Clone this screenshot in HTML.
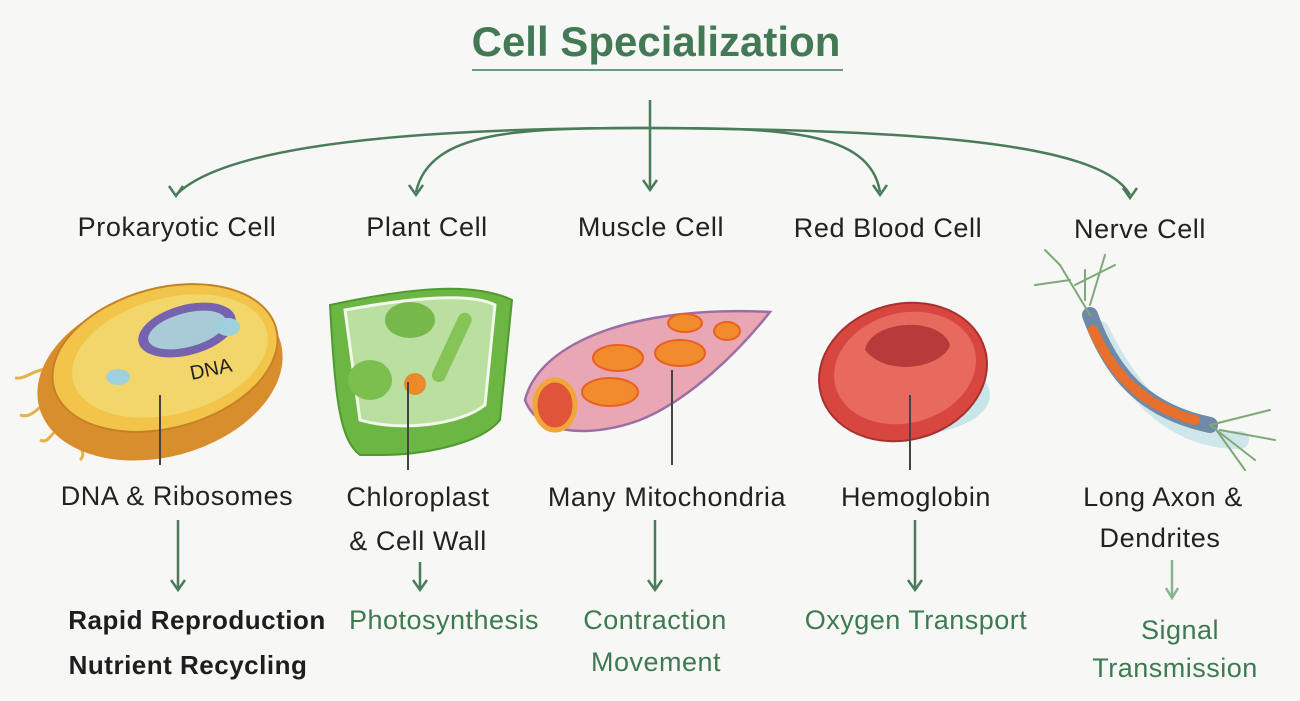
<!DOCTYPE html>
<html><head><meta charset="utf-8"><style>
html,body{margin:0;padding:0;background:#f7f7f5;}
svg{display:block;}
text{font-family:"Liberation Sans",sans-serif;}
</style></head><body>
<svg width="1300" height="701" viewBox="0 0 1300 701" xmlns="http://www.w3.org/2000/svg">
<rect width="1300" height="701" fill="#f7f7f5"/>
<text x="656" y="56" text-anchor="middle" font-size="42" font-weight="bold" fill="#437a55">Cell Specialization</text>
<line x1="472" y1="70" x2="843" y2="70" stroke="#6f9a7c" stroke-width="2"/>
<g stroke="#4a7c59" stroke-width="2.5" fill="none">
<path d="M650,100 L650,188"/>
<path d="M650,128 C450,128 230,140 176,195"/>
<path d="M650,128 C520,128 430,130 416,192"/>
<path d="M650,128 C780,128 870,130 880,192"/>
<path d="M650,128 C900,130 1100,140 1130,195"/>
<path d="M169,186 L176,196 L183,186"/>
<path d="M409,185 L416,195 L423,185"/>
<path d="M643,180 L650,190 L657,180"/>
<path d="M873,185 L880,195 L887,185"/>
<path d="M1123,188 L1130,198 L1137,188"/>
</g>
<g font-size="27" fill="#222" text-anchor="middle" letter-spacing="0.6">
<text x="177" y="236">Prokaryotic Cell</text>
<text x="427" y="236">Plant Cell</text>
<text x="651" y="236">Muscle Cell</text>
<text x="888" y="237">Red Blood Cell</text>
<text x="1140" y="238">Nerve Cell</text>
</g>
<!-- prokaryote -->
<g>
<path d="M60,375 C40,360 30,380 15,378 M62,395 C40,400 35,420 20,415 M70,420 C50,430 50,445 40,440 M80,430 C70,445 90,450 80,460" stroke="#e5b24a" stroke-width="3" fill="none"/>
<ellipse cx="160" cy="375" rx="125" ry="82" transform="rotate(-15 160 375)" fill="#d98e2e"/>
<ellipse cx="165" cy="358" rx="115" ry="70" transform="rotate(-15 165 358)" fill="#f2c44a" stroke="#c58225" stroke-width="2"/>
<ellipse cx="170" cy="356" rx="100" ry="58" transform="rotate(-15 170 356)" fill="#f3d66a"/>
<ellipse cx="187" cy="330" rx="50" ry="25" transform="rotate(-15 187 330)" fill="#7563b0"/>
<ellipse cx="187" cy="330" rx="40" ry="17" transform="rotate(-15 187 330)" fill="#a9cbd8"/>
<ellipse cx="118" cy="377" rx="12" ry="8" fill="#9fd0de"/><ellipse cx="228" cy="327" rx="12" ry="9" fill="#9fd0de"/>
<text x="190" y="376" font-size="20" fill="#222" transform="rotate(-12 210 370)">DNA</text>
</g>
<!-- plant -->
<g>
<path d="M330,305 C400,290 470,280 512,300 L500,420 C480,445 420,455 380,455 L360,455 C340,440 335,400 330,305Z" fill="#6cb743" stroke="#4f9a2f" stroke-width="2"/>
<path d="M345,310 C410,298 470,292 495,305 L485,405 C460,425 400,432 360,420Z" fill="#b9e0a0" stroke="#f2f8ea" stroke-width="3"/>
<ellipse cx="410" cy="320" rx="25" ry="18" fill="#76b94a"/>
<ellipse cx="370" cy="380" rx="22" ry="20" fill="#7dbf4f"/>
<rect x="445" y="310" width="14" height="75" rx="7" transform="rotate(25 452 347)" fill="#86c457"/>
<circle cx="415" cy="384" r="11" fill="#ec8a2a"/>
</g>
<!-- muscle -->
<g>
<path d="M525,400 C540,340 640,305 770,312 C740,350 690,400 640,420 C600,435 540,440 525,400Z" fill="#e8a7b2" stroke="#9b6fa5" stroke-width="2.5"/>
<ellipse cx="555" cy="405" rx="20" ry="25" fill="#e0543a" stroke="#f2a63a" stroke-width="5"/>
<ellipse cx="610" cy="392" rx="28" ry="14" fill="#f08c2e" stroke="#e96020" stroke-width="2"/>
<ellipse cx="618" cy="358" rx="25" ry="13" fill="#f08c2e" stroke="#e96020" stroke-width="2"/>
<ellipse cx="680" cy="353" rx="25" ry="13" fill="#f08c2e" stroke="#e96020" stroke-width="2"/>
<ellipse cx="685" cy="323" rx="17" ry="9" fill="#f08c2e" stroke="#e96020" stroke-width="2"/>
<ellipse cx="727" cy="331" rx="13" ry="9" fill="#f08c2e" stroke="#e96020" stroke-width="2"/>
</g>
<!-- RBC -->
<g>
<ellipse cx="908" cy="395" rx="82" ry="40" fill="#c8e6ea"/>
<ellipse cx="903" cy="372" rx="85" ry="68" transform="rotate(-15 903 372)" fill="#d8473f" stroke="#a83030" stroke-width="2"/>
<ellipse cx="905" cy="368" rx="72" ry="55" transform="rotate(-15 905 368)" fill="#e86a5e"/>
<path d="M865,350 C870,320 940,315 950,345 C945,365 890,380 865,350Z" fill="#b83a3a"/>
</g>
<!-- nerve -->
<g stroke-linecap="round" fill="none">
<path d="M1100,330 C1130,390 1170,440 1240,440" stroke="#cfe6ea" stroke-width="18"/>
<path d="M1090,315 C1110,370 1140,410 1210,425" stroke="#6e8aa8" stroke-width="16"/>
<path d="M1093,330 C1112,372 1140,405 1195,420" stroke="#e8702c" stroke-width="10" stroke-dasharray="26,6"/>
<path d="M1090,315 L1060,265 M1070,280 L1035,285 M1075,285 L1115,265 M1090,305 L1105,255 M1060,265 L1045,250 M1085,300 L1085,270 M1210,425 L1270,410 M1210,425 L1255,460 M1220,430 L1275,440 M1215,428 L1245,470" stroke="#7fa878" stroke-width="2"/>
</g>
<!-- leaders -->
<g stroke="#444" stroke-width="2">
<line x1="160" y1="395" x2="160" y2="465"/>
<line x1="408" y1="382" x2="408" y2="470"/>
<line x1="672" y1="370" x2="672" y2="465"/>
<line x1="910" y1="395" x2="910" y2="470"/>
</g>
<g font-size="27" fill="#222" text-anchor="middle" letter-spacing="0.6">
<text x="177" y="505">DNA &amp; Ribosomes</text>
<text x="418" y="506">Chloroplast</text>
<text x="418" y="550">&amp; Cell Wall</text>
<text x="667" y="506">Many Mitochondria</text>
<text x="916" y="506">Hemoglobin</text>
<text x="1163" y="506">Long Axon &amp;</text>
<text x="1160" y="547">Dendrites</text>
</g>
<g stroke="#4a7c59" stroke-width="2.5" fill="none">
<path d="M178,520 L178,588 M171,580 L178,590 L185,580"/>
<path d="M420,562 L420,588 M413,580 L420,590 L427,580"/>
<path d="M655,520 L655,588 M648,580 L655,590 L662,580"/>
<path d="M915,520 L915,588 M908,580 L915,590 L922,580"/>
<path d="M1172,560 L1172,596 M1166,588 L1172,598 L1178,588" stroke="#8ab395"/>
</g>
<g font-size="27" text-anchor="middle" letter-spacing="0.5">
<text x="197" y="629" fill="#1e1e1e" font-weight="bold" font-size="26">Rapid Reproduction</text>
<text x="188" y="674" fill="#1e1e1e" font-weight="bold" font-size="26">Nutrient Recycling</text>
<text x="444" y="629" fill="#3d7a50">Photosynthesis</text>
<text x="655" y="629" fill="#3d7a50">Contraction</text>
<text x="656" y="671" fill="#3d7a50">Movement</text>
<text x="916" y="629" fill="#3d7a50">Oxygen Transport</text>
<text x="1180" y="639" fill="#3d7a50">Signal</text>
<text x="1175" y="677" fill="#3d7a50">Transmission</text>
</g>
</svg>
</body></html>
